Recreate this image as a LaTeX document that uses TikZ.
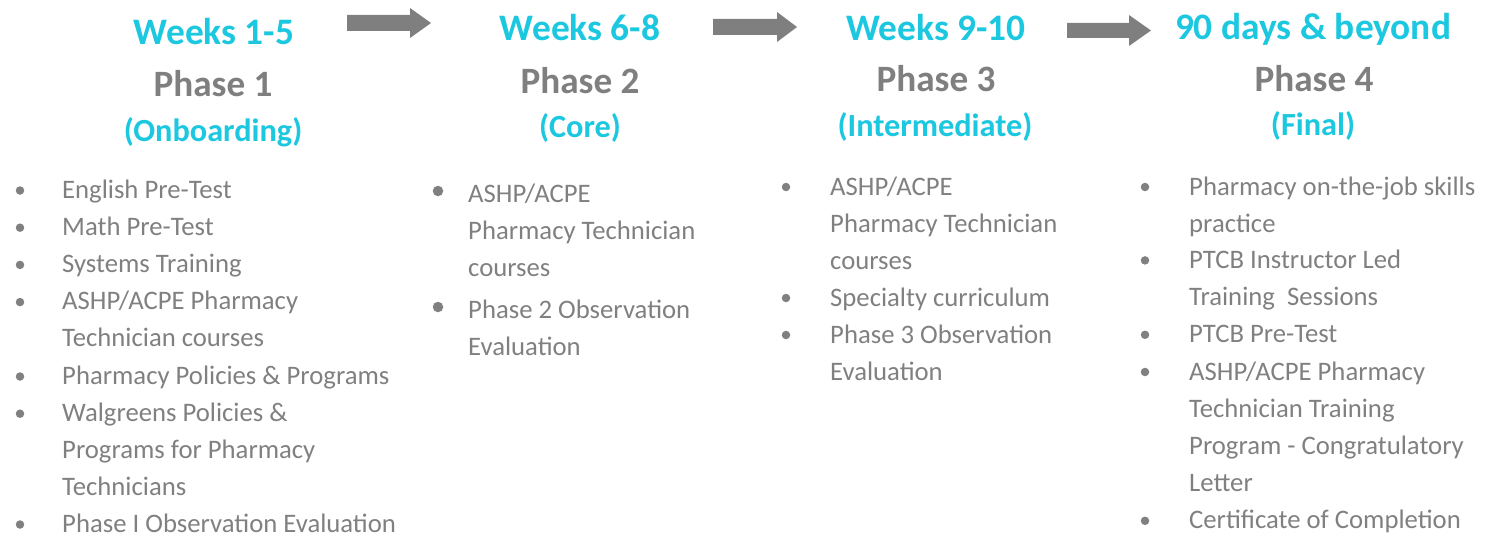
\documentclass[tikz,border=0pt]{standalone}
\usepackage{fontspec}
\setmainfont{Carlito}
\definecolor{cyanh}{RGB}{28,199,224}
\definecolor{grayh}{RGB}{127,127,127}
\definecolor{grayt}{RGB}{128,128,128}
\definecolor{arrowc}{RGB}{127,127,127}
\newcommand{\itemlines}[1]{\parbox[t]{330pt}{\raggedright #1}}
\begin{document}
\begin{tikzpicture}[x=1pt,y=-1pt,
  weeks/.style={anchor=base,inner sep=0pt,text=cyanh,font=\fontsize{37.4}{42}\selectfont\bfseries},
  phase/.style={anchor=base,inner sep=0pt,text=grayh,font=\fontsize{37.2}{42}\selectfont\bfseries},
  paren/.style={anchor=base,inner sep=0pt,text=cyanh,font=\fontsize{32.3}{38}\selectfont\bfseries},
  item/.style={anchor=base west,inner sep=0pt,text=grayt,font=\fontsize{26.7}{37.2}\selectfont},
  bul/.style={circle,fill=grayt,inner sep=0pt,minimum size=8.5pt},
  bulbig/.style={circle,fill=grayt,inner sep=0pt,minimum size=10.5pt},
  bigarrow/.style={fill=arrowc,draw=none}]
\useasboundingbox (0,0) rectangle (1491,535);
% headings
\node[weeks] (w1) at (214,45) {Weeks 1-5};
\node[phase] (p1) at (213,96) {Phase 1};
\node[paren] (o1) at (213,141) {(Onboarding)};
\node[weeks] (w2) at (580,41) {Weeks 6-8};
\node[phase] (p2) at (580,93) {Phase 2};
\node[paren] (o2) at (580,137) {(Core)};
\node[weeks] (w3) at (936,41) {Weeks 9-10};
\node[phase] (p3) at (936,92) {Phase 3};
\node[paren] (o3) at (935,136) {(Intermediate)};
\node[weeks] (w4) at (1313,40) {90 days \& beyond};
\node[phase] (p4) at (1314,92) {Phase 4};
\node[paren] (o4) at (1313,135) {(Final)};
% arrows
\fill[bigarrow] (347,15) -- (410,15) -- (410,8) -- (431,23) -- (410,38) -- (410,31) -- (347,31) -- cycle;
\fill[bigarrow] (713,19) -- (777,19) -- (777,12) -- (797,27) -- (777,42) -- (777,35) -- (713,35) -- cycle;
\fill[bigarrow] (1067,23) -- (1129,23) -- (1129,15) -- (1151,30.5) -- (1129,46) -- (1129,38) -- (1067,38) -- cycle;
% column 1
\node[item] (a1) at (62,198) {English Pre-Test};
\node[item] (a2) at (62,235.2) {Math Pre-Test};
\node[item] (a3) at (62,272.4) {Systems Training};
\node[item] (a4) at (62,309.6) {\itemlines{ASHP/ACPE Pharmacy\\Technician courses}};
\node[item] (a5) at (62,384) {Pharmacy Policies \& Programs};
\node[item] (a6) at (62,421.2) {\itemlines{Walgreens Policies \&\\Programs for Pharmacy\\Technicians}};
\node[item,text depth=0pt] (a7) at (62,532) {Phase I Observation Evaluation};
\foreach \y in {198,235.2,272.4,309.6,384,421.2,532}
  \node[bul] at (20,\y-7.5) {};
% column 2
\node[item] (b1) at (468,202) {\itemlines{ASHP/ACPE\\Pharmacy Technician\\courses}};
\node[item] (b2) at (468,318) {\itemlines{Phase 2 Observation\\Evaluation}};
\foreach \y in {202,318}
  \node[bulbig] at (438,\y-11) {};
% column 3
\node[item] (c1) at (830,195) {\itemlines{ASHP/ACPE\\Pharmacy Technician\\courses}};
\node[item] (c2) at (830,306) {Specialty curriculum};
\node[item] (c3) at (830,343) {\itemlines{Phase 3 Observation\\Evaluation}};
\foreach \y in {195,306,343}
  \node[bul] at (786,\y-8) {};
% column 4
\node[item] (d1) at (1189,195) {\itemlines{Pharmacy on-the-job skills\\practice}};
\node[item] (d2) at (1189,268.4) {\itemlines{PTCB Instructor Led\\Training\ \ Sessions}};
\node[item] (d3) at (1189,342.8) {PTCB Pre-Test};
\node[item] (d4) at (1189,380) {\itemlines{ASHP/ACPE Pharmacy\\Technician Training\\Program - Congratulatory\\Letter}};
\node[item] (d5) at (1189,528.8) {Certificate of Completion};
\foreach \y in {195,268.4,342.8,380,528.8}
  \node[bul] at (1145,\y-8) {};
\end{tikzpicture}
\end{document}
